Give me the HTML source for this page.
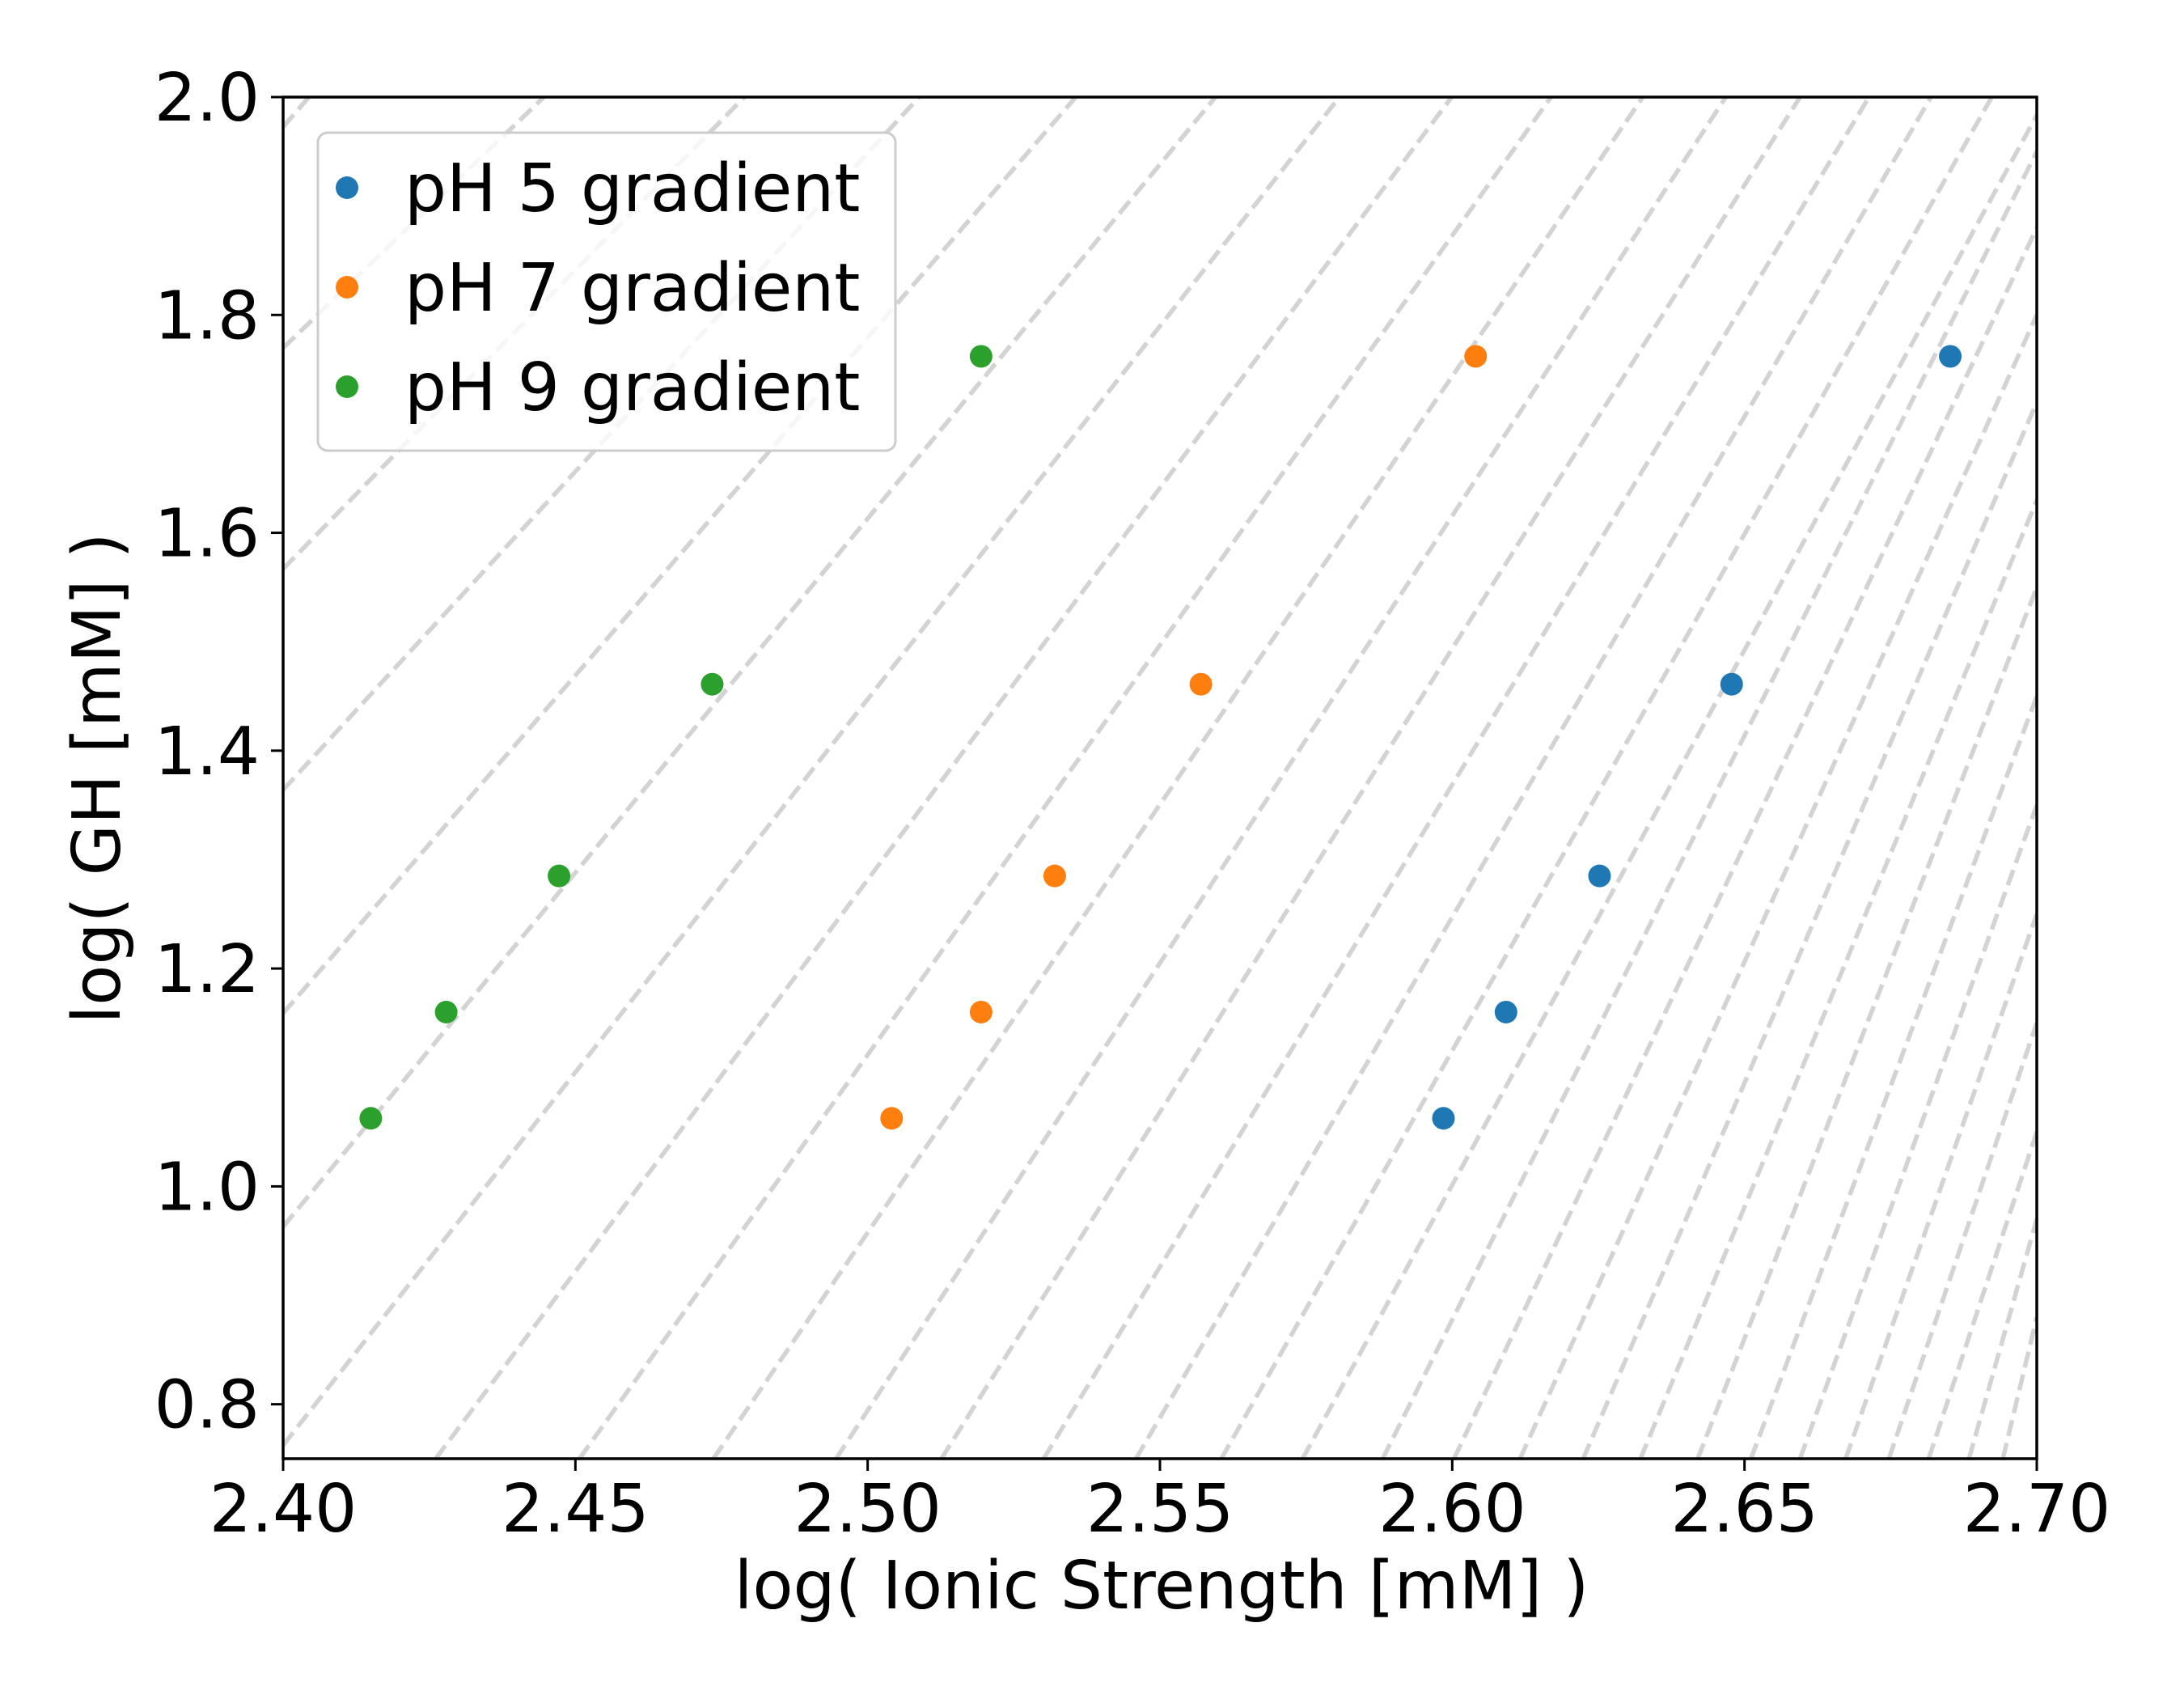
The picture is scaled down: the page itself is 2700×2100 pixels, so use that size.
<!DOCTYPE html>
<html><head><meta charset="utf-8"><style>
html,body{margin:0;padding:0;background:#fff;}
svg{display:block;}
text{font-family:"DejaVu Sans","Liberation Sans",sans-serif;fill:#000;}
</style></head><body>
<svg id="chart" width="2700" height="2100" viewBox="0 0 2700 2100" xmlns="http://www.w3.org/2000/svg">
<defs><clipPath id="plotclip"><rect x="350" y="120" width="2168" height="1683"/></clipPath></defs>
<rect x="0" y="0" width="2700" height="2100" fill="#fff"/>
<g id="guides" clip-path="url(#plotclip)"></g>
<g id="points"></g>
<rect x="350" y="120" width="2168" height="1683" fill="none" stroke="#000" stroke-width="3.5"/>
<g id="xticks"></g>
<g id="yticks"></g>
<text x="1436" y="1988" font-size="82" text-anchor="middle">log( Ionic Strength [mM] )</text>
<text transform="translate(148,962) rotate(-90)" font-size="82" text-anchor="middle">log( GH [mM] )</text>
<g>
<rect x="393" y="164" width="714" height="393" rx="12" fill="#fff" fill-opacity="0.8" stroke="#cccccc" stroke-width="3"/>
<g id="legend-items"></g>
</g>
</svg>
<script>
// data
const seriesNames = ["pH 5 gradient", "pH 7 gradient", "pH 9 gradient"];
const seriesColors = ["#1f77b4", "#ff7f0e", "#2ca02c"];
const ghValues = [1.0625, 1.160, 1.285, 1.461, 1.762];
const ph5Ionic = [2.5985, 2.6092, 2.6252, 2.6478, 2.6852];
const ph7Ionic = [2.5041, 2.5194, 2.5320, 2.5570, 2.6040];
const ph9Ionic = [2.4150, 2.4279, 2.4472, 2.4734, 2.5194];
const xTicks = [2.40, 2.45, 2.50, 2.55, 2.60, 2.65, 2.70];
const xTickLabels = ["2.40", "2.45", "2.50", "2.55", "2.60", "2.65", "2.70"];
const yTicks = [0.8, 1.0, 1.2, 1.4, 1.6, 1.8, 2.0];
const yTickLabels = ["0.8", "1.0", "1.2", "1.4", "1.6", "1.8", "2.0"];
// guide line endpoints (data units)
const guideX0 = [2.4, 2.4, 2.4, 2.4, 2.4, 2.4, 2.4, 2.4261, 2.4507, 2.4736, 2.4946, 2.5126, 2.5301, 2.5459, 2.5605, 2.5744, 2.5881, 2.6003, 2.6116, 2.6224, 2.6322, 2.6420, 2.6511, 2.6595, 2.6673, 2.6747, 2.6815, 2.6884, 2.6942];
const guideY0 = [1.9725, 1.7697, 1.5669, 1.3640, 1.1590, 0.9629, 0.7623, 0.75, 0.75, 0.75, 0.75, 0.75, 0.75, 0.75, 0.75, 0.75, 0.75, 0.75, 0.75, 0.75, 0.75, 0.75, 0.75, 0.75, 0.75, 0.75, 0.75, 0.75, 0.75];
const guideX1 = [2.4044, 2.4446, 2.4789, 2.5088, 2.5356, 2.5595, 2.5807, 2.5999, 2.6169, 2.6326, 2.6468, 2.6595, 2.6713, 2.6819, 2.6923, 2.7017, 2.7, 2.7, 2.7, 2.7, 2.7, 2.7, 2.7, 2.7, 2.7, 2.7, 2.7, 2.7, 2.7];
const guideY1 = [2.0, 2.0, 2.0, 2.0, 2.0, 2.0, 2.0, 2.0, 2.0, 2.0, 2.0, 2.0, 2.0, 2.0, 2.0, 2.0, 1.95, 1.88, 1.80, 1.72, 1.63, 1.55, 1.45, 1.35, 1.25, 1.15, 1.05, 0.97, 0.88];

const NS = "http://www.w3.org/2000/svg";
const L = 350, R = 2518, T = 120, B = 1803;
const xMin = 2.4, xMax = 2.7, yMin = 0.75, yMax = 2.0;
function sx(v){ return L + (v - xMin) / (xMax - xMin) * (R - L); }
function sy(v){ return B - (v - yMin) / (yMax - yMin) * (B - T); }
function mk(tag, attrs, parent){ const e = document.createElementNS(NS, tag); for (const k in attrs) e.setAttribute(k, attrs[k]); parent.appendChild(e); return e; }

const guides = document.getElementById("guides");
for (let i = 0; i < guideX0.length; i++) {
  const ln = mk("line", {x1: sx(guideX0[i]), y1: sy(guideY0[i]), x2: sx(guideX1[i]), y2: sy(guideY1[i]), stroke: "#d3d3d3", "stroke-width": 5.5, "stroke-dasharray": "20 9"}, guides);
  
  
}

const pts = document.getElementById("points");
const allSeries = [ph5Ionic, ph7Ionic, ph9Ionic];
for (let s = 0; s < allSeries.length; s++) {
  for (let i = 0; i < ghValues.length; i++) {
    const c = mk("circle", {cx: sx(allSeries[s][i]), cy: sy(ghValues[i]), r: 14, fill: seriesColors[s]}, pts);
    
    
  }
}

const xt = document.getElementById("xticks");
for (let i = 0; i < xTicks.length; i++) {
  const x = sx(xTicks[i]);
  const tk = mk("line", {x1: x, y1: B, x2: x, y2: B + 15, stroke: "#000", "stroke-width": 3}, xt);
  
  
  const tx = mk("text", {x: x, y: 1893, "font-size": 82, "text-anchor": "middle"}, xt);
  tx.textContent = xTickLabels[i];
  
  
}
const yt = document.getElementById("yticks");
for (let i = 0; i < yTicks.length; i++) {
  const y = sy(yTicks[i]);
  const tk = mk("line", {x1: L - 15, y1: y, x2: L, y2: y, stroke: "#000", "stroke-width": 3}, yt);
  
  
  const tx = mk("text", {x: 321, y: y + 29, "font-size": 82, "text-anchor": "end"}, yt);
  tx.textContent = yTickLabels[i];
  
  
}

const lg = document.getElementById("legend-items");
const legendY = [232, 355, 478];
for (let s = 0; s < seriesNames.length; s++) {
  const c = mk("circle", {cx: 429, cy: legendY[s], r: 14, fill: seriesColors[s]}, lg);
  
  
  const t = mk("text", {x: 500, y: legendY[s] + 29, "font-size": 82}, lg);
  t.textContent = seriesNames[s];
  
  
}
</script>
</body></html>
